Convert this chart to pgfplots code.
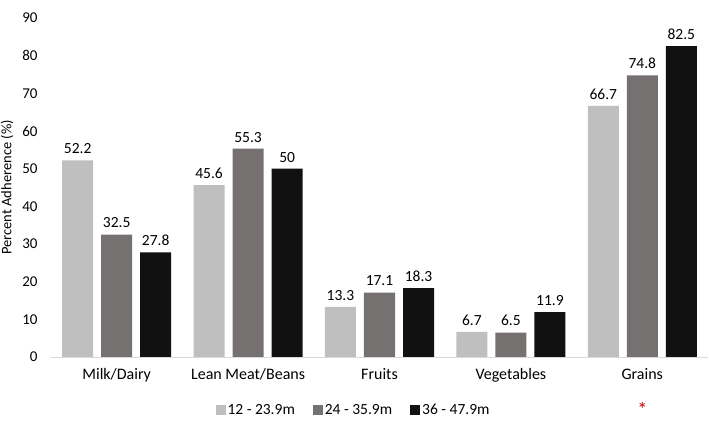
\documentclass[border=0pt]{standalone}
\usepackage{pgfplots}
\pgfplotsset{compat=1.18}
\usepackage{fontspec}
\setmainfont{Carlito}
\definecolor{cA}{HTML}{BFBFBF}
\definecolor{cB}{HTML}{767171}
\definecolor{cC}{HTML}{111111}
\definecolor{axc}{HTML}{D9D9D9}
\begin{document}
\begin{tikzpicture}[x=1pt,y=1pt]
\begin{axis}[
  scale only axis, width=657pt, height=339pt,
  xmin=-0.5, xmax=4.5, ymin=0, ymax=90,
  ytick={0,10,...,90},
  xtick={0,1,2,3,4},
  xticklabels={Milk/Dairy, Lean Meat/Beans, Fruits, Vegetables, Grains},
  ybar,
  axis x line*=bottom,
  axis y line*=left,
  x axis line style={draw=axc, line width=0.8pt, -},
  y axis line style={draw=none},
  major tick length=0pt,
  ylabel={Percent Adherence (\%)},
  ylabel style={at={([xshift=-34pt]rel axis cs:0,0.5)}, anchor=south, font=\fontsize{14.5}{16}\selectfont},
  yticklabel style={font=\fontsize{15}{18}\selectfont, xshift=-10pt},
  xticklabel style={font=\fontsize{16}{18}\selectfont, yshift=-8pt},
  /pgf/number format/assume math mode=true,
  bar width=0.236,
  nodes near coords,
  every node near coord/.append style={font=\fontsize{15.5}{18}\selectfont, color=black, yshift=3pt},
  clip=false,
  legend style={at={(rel axis cs:0.4605,-0.157)}, anchor=center, draw=none, legend columns=3,
     font=\fontsize{15.5}{18}\selectfont,
     /tikz/every odd column/.append style={column sep=0pt},
     /tikz/every even column/.append style={column sep=16pt}},
  legend image code/.code={\fill[#1] (0pt,-5pt) rectangle (10pt,5pt);},
]
\addplot[fill=cA, draw=none, bar shift=-0.297] coordinates {(0,52.2) (1,45.6) (2,13.3) (3,6.7) (4,66.7)};
\addlegendentry{12 - 23.9m}
\addplot[fill=cB, draw=none, bar shift=0] coordinates {(0,32.5) (1,55.3) (2,17.1) (3,6.5) (4,74.8)};
\addlegendentry{24 - 35.9m}
\addplot[fill=cC, draw=none, bar shift=0.297] coordinates {(0,27.8) (1,50) (2,18.3) (3,11.9) (4,82.5)};
\addlegendentry{36 - 47.9m}
\node[text=red!80!black, font=\fontsize{20}{20}\selectfont] at (axis cs:4,-14) {*};
\coordinate (sw) at (rel axis cs:0,0);
\coordinate (ne) at (rel axis cs:1,1);
\end{axis}
\pgfresetboundingbox
\path ([shift={(-51pt,-65pt)}]sw) rectangle ([shift={(1pt,18pt)}]ne);
\end{tikzpicture}
\end{document}
